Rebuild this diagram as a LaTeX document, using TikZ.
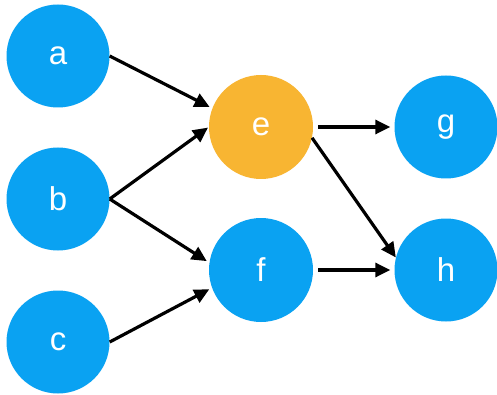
\documentclass[tikz,border=0pt]{standalone}
\usepackage{fontspec}
\setmainfont{Liberation Sans}
\usetikzlibrary{arrows.meta}
\definecolor{nblue}{RGB}{10,162,242}
\definecolor{norange}{RGB}{248,181,50}
\begin{document}
\begin{tikzpicture}[x=1pt,y=-1pt,
  vert/.style={circle,fill=nblue,minimum size=103pt,inner sep=0pt,text=white,font=\fontsize{33}{33}\selectfont},
  edge/.style={line width=3.2pt,-{Triangle[length=15pt,width=14pt]}}]
\fill[white] (0,0) rectangle (497,395);
\useasboundingbox (0,0) rectangle (497,395);
\node[vert] (a) at (58,56) {a};
\node[vert] (b) at (58,199) {b};
\node[vert] (c) at (58,342) {c};
\node[vert,fill=norange,minimum size=104pt] (e) at (261,127) {e};
\node[vert,minimum size=104pt] (f) at (261,270) {f};
\node[vert] (g) at (446,127) {g};
\node[vert] (h) at (446,270) {h};
\draw[edge,shorten >=3pt] (a.east) -- (e.159);
\draw[edge,shorten >=1pt] (b.east) -- (e.west);
\draw[edge,shorten >=3pt] (b.east) -- (f.172);
\draw[edge,shorten >=3pt] (c.east) -- (f.200);
\draw[edge,shorten <=5pt,shorten >=4pt] (e.east) -- (g.west);
\draw[edge,shorten >=0pt] (e.-12) -- (h.166);
\draw[edge,shorten <=5pt,shorten >=4pt] (f.east) -- (h.west);
\end{tikzpicture}
\end{document}
